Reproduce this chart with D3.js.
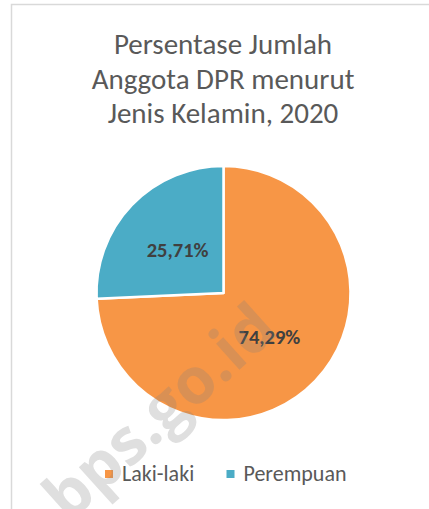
<!DOCTYPE html>
<html>
<head>
<meta charset="utf-8">
<script src="https://cdn.jsdelivr.net/npm/d3@7"></script>
<style>
  html, body { margin: 0; padding: 0; background: #fff; }
  svg { display: block; }
</style>
</head>
<body>
<div id="chart"></div>
<script>
// data
var categories = ["Laki-laki", "Perempuan"];
var values = [74.29, 25.71];
var labels = ["74,29%", "25,71%"];
var colors = ["#F79646", "#4BACC6"];
var titleLines = ["Persentase Jumlah", "Anggota DPR menurut", "Jenis Kelamin, 2020"];

var width = 429,
    height = 509;

var font = "Carlito, Calibri, Lato, 'Open Sans', sans-serif";

var svg = d3.select("#chart").append("svg")
    .attr("width", width)
    .attr("height", height);

// chart area border (runs off the right and bottom)
svg.append("rect")
    .attr("x", 11.5)
    .attr("y", 4.5)
    .attr("width", width)
    .attr("height", height)
    .attr("fill", "#fff")
    .attr("stroke", "#d9d9d9")
    .attr("stroke-width", 1.5);

// title
svg.append("g").selectAll("text")
    .data(titleLines).enter()
    .append("text")
    .attr("x", 223)
    .attr("y", function(d, i) { return 54 + i * 34.5; })
    .attr("text-anchor", "middle")
    .attr("font-family", font)
    .attr("font-size", 29)
    .attr("fill", "#595959")
    .text(function(d) { return d; });

var cx = 223.5, cy = 293, r = 127;

var pie = d3.pie().sort(null).value(function(d) { return d; });
var arc = d3.arc().innerRadius(0).outerRadius(r);

var g = svg.append("g")
    .attr("transform", "translate(" + cx + "," + cy + ")");

var arcs = pie(values);

g.selectAll("path")
    .data(arcs).enter()
    .append("path")
    .attr("d", arc)
    .attr("fill", function(d, i) { return colors[i]; })
    .attr("stroke", "#fff")
    .attr("stroke-width", 2.5)
    .attr("stroke-linejoin", "round");

g.selectAll(".lbl")
    .data(arcs).enter()
    .append("text")
    .attr("class", "lbl")
    .attr("transform", function(d) {
        var c = arc.centroid(d);
        return "translate(" + c[0] + "," + (c[1] + 7.5) + ")";
    })
    .attr("text-anchor", "middle")
    .attr("font-family", font)
    .attr("font-weight", "bold")
    .attr("font-size", 20.5)
    .attr("fill", "#404040")
    .text(function(d, i) { return labels[i]; });

// legend
var legendX = [105, 226.5];
var leg = svg.append("g").selectAll("g")
    .data(categories).enter()
    .append("g")
    .attr("transform", function(d, i) { return "translate(" + legendX[i] + ",470)"; });

leg.append("rect")
    .attr("width", 8)
    .attr("height", 8)
    .attr("fill", function(d, i) { return colors[i]; });

leg.append("text")
    .attr("x", 17)
    .attr("y", 11)
    .attr("font-family", font)
    .attr("font-size", 22)
    .attr("fill", "#595959")
    .text(function(d) { return d; });

// watermark
svg.append("text")
    .attr("transform", "translate(158,410) rotate(-42)")
    .attr("text-anchor", "middle")
    .attr("dominant-baseline", "central")
    .attr("font-family", "'Open Sans', sans-serif")
    .attr("font-weight", "bold")
    .attr("font-size", 64)
    .attr("fill", "#7f7f7f")
    .attr("fill-opacity", 0.25)
    .text("bps.go.id");
</script>
</body>
</html>
